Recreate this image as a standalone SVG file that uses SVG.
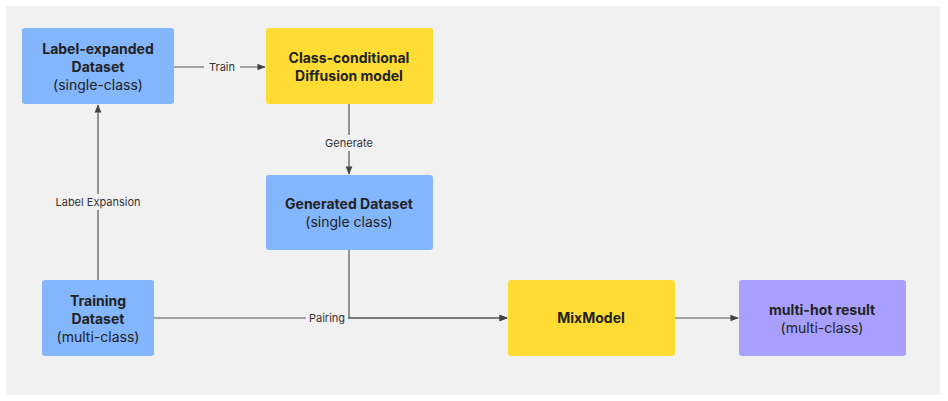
<svg xmlns="http://www.w3.org/2000/svg" width="948" height="401" viewBox="0 0 948 401">
<style>
.b{fill:#84b6fd}.y{fill:#ffdc34}.p{fill:#a8a0fc}
text{font-family:Inter,"Noto Sans",sans-serif;fill:#222;text-anchor:middle}
.t{font-size:14px;font-weight:700}.s{font-size:14px}
.l{font-size:11px;fill:#333}
.c{stroke:#555;stroke-width:1.2;fill:none}
.lb{fill:#f1f1f1}
</style>
<defs><marker id="a" viewBox="0 0 10 10" refX="9" refY="5" markerWidth="7" markerHeight="7" orient="auto"><path d="M0,1L10,5L0,9z" fill="#444"/></marker></defs>
<rect x="6" y="6" width="934" height="389" fill="#f1f1f1"/>
<g id="connectors">
<path class="c" d="M98,280V105" marker-end="url(#a)"/>
<rect class="lb" x="56" y="194" width="84" height="16"/><text class="l" x="98" y="206">Label Expansion</text>
<path class="c" d="M174,67H265" marker-end="url(#a)"/>
<rect class="lb" x="204" y="59" width="36" height="16"/><text class="l" x="222" y="71">Train</text>
<path class="c" d="M349,104V174" marker-end="url(#a)"/>
<rect class="lb" x="324" y="135" width="50" height="16"/><text class="l" x="349" y="147">Generate</text>
<path class="c" d="M349,250V318H507" marker-end="url(#a)"/>
<path class="c" d="M154,318H507" marker-end="url(#a)"/>
<rect class="lb" x="306" y="310" width="42" height="16"/><text class="l" x="327" y="322">Pairing</text>
<path class="c" d="M675,318H738" marker-end="url(#a)"/>
</g>
<g id="label-expanded"><rect class="b" x="22" y="28" width="152" height="76" rx="3"/>
<text class="t" x="98" y="54">Label-expanded</text><text class="t" x="98" y="72">Dataset</text><text class="s" x="98" y="90">(single-class)</text></g>
<g id="diffusion"><rect class="y" x="266" y="28" width="167" height="76" rx="3"/>
<text class="t" x="349" y="63">Class-conditional</text><text class="t" x="349" y="81">Diffusion model</text></g>
<g id="generated"><rect class="b" x="266" y="175" width="167" height="75" rx="3"/>
<text class="t" x="349" y="209">Generated Dataset</text><text class="s" x="349" y="227">(single class)</text></g>
<g id="training"><rect class="b" x="42" y="280" width="112" height="76" rx="3"/>
<text class="t" x="98" y="306">Training</text><text class="t" x="98" y="324">Dataset</text><text class="s" x="98" y="342">(multi-class)</text></g>
<g id="mixmodel"><rect class="y" x="508" y="280" width="167" height="76" rx="3"/>
<text class="t" x="591" y="323">MixModel</text></g>
<g id="result"><rect class="p" x="739" y="280" width="167" height="76" rx="3"/>
<text class="t" x="822" y="315">multi-hot result</text><text class="s" x="822" y="333">(multi-class)</text></g>
</svg>
